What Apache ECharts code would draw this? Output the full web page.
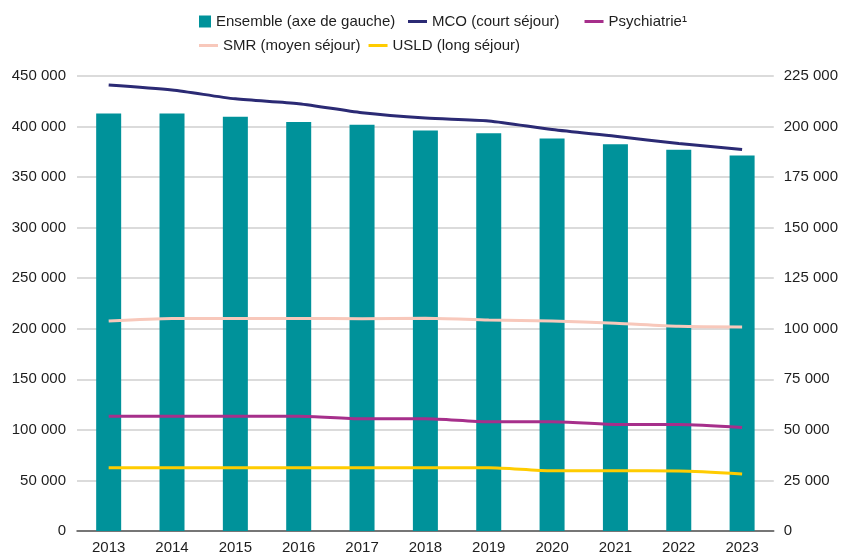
<!DOCTYPE html>
<html>
<head>
<meta charset="utf-8">
<script src="https://cdn.jsdelivr.net/npm/echarts@6/dist/echarts.min.js"></script>
<style>
  html, body { margin: 0; padding: 0; background: #ffffff; }
  #chart { width: 841px; height: 555px; }
</style>
</head>
<body>
<div id="chart"></div>
<script>
// Years on the category axis
const years = ['2013', '2014', '2015', '2016', '2017', '2018', '2019', '2020', '2021', '2022', '2023'];

// Total beds (left axis)
const ensemble = [412800, 412800, 409600, 404500, 401700, 396200, 393400, 388300, 382500, 377100, 371400];

// Beds by discipline (right axis)
const mco = [220600, 218100, 213700, 211300, 206800, 204200, 202800, 198500, 195200, 191600, 188700];
const smr = [103800, 105100, 105100, 105100, 105000, 105200, 104300, 103800, 102700, 101200, 100900];
const psychiatrie = [56800, 56800, 56800, 56800, 55500, 55500, 54000, 54000, 52700, 52700, 51200];
const usld = [31300, 31300, 31300, 31300, 31300, 31300, 31300, 29800, 29800, 29700, 28200];

// Axis ranges
const leftAxis = { min: 0, max: 450000, interval: 50000 };
const rightAxis = { min: 0, max: 225000, interval: 25000 };

const FONT = '"Liberation Sans", Arial, sans-serif';
const TEXT = '#1e1e1e';

const fmt = v => {
  const s = String(Math.round(v));
  return s.replace(/\B(?=(\d{3})+(?!\d))/g, ' ');
};

const chart = echarts.init(document.getElementById('chart'), null, { renderer: 'canvas' });

const legendText = { color: TEXT, fontFamily: FONT, fontSize: 15 };

chart.setOption({
  animation: false,
  backgroundColor: '#ffffff',
  textStyle: { fontFamily: FONT },
  grid: { left: 77, right: 67, top: 76, bottom: 21, containLabel: false },
  legend: [
    {
      data: ['Ensemble (axe de gauche)'],
      left: 194, top: 9,
      icon: 'rect', itemWidth: 12, itemHeight: 12,
      textStyle: legendText
    },
    {
      data: ['MCO (court séjour)', 'Psychiatrie¹'],
      left: 403, top: 9, itemGap: 25,
      icon: 'rect', itemWidth: 19, itemHeight: 3,
      textStyle: legendText
    },
    {
      data: ['SMR (moyen séjour)', 'USLD (long séjour)'],
      left: 194, top: 33, itemGap: 8,
      icon: 'rect', itemWidth: 19, itemHeight: 3,
      textStyle: legendText
    }
  ],
  xAxis: {
    type: 'category',
    data: years,
    boundaryGap: true,
    axisLine: { lineStyle: { color: '#555555', width: 1.5 } },
    axisTick: { show: false },
    axisLabel: { color: TEXT, fontSize: 15, fontFamily: FONT, margin: 9 }
  },
  yAxis: [
    {
      type: 'value',
      position: 'left',
      min: leftAxis.min, max: leftAxis.max, interval: leftAxis.interval,
      axisLine: { show: false },
      axisTick: { show: false },
      axisLabel: { color: TEXT, fontSize: 15, fontFamily: FONT, margin: 11, formatter: fmt },
      splitLine: { lineStyle: { color: '#cfcfcf', width: 1.5 } }
    },
    {
      type: 'value',
      position: 'right',
      min: rightAxis.min, max: rightAxis.max, interval: rightAxis.interval,
      axisLine: { show: false },
      axisTick: { show: false },
      axisLabel: { color: TEXT, fontSize: 15, fontFamily: FONT, margin: 10, formatter: fmt },
      splitLine: { show: false }
    }
  ],
  series: [
    {
      name: 'Ensemble (axe de gauche)',
      type: 'bar',
      yAxisIndex: 0,
      data: ensemble,
      barWidth: 25,
      itemStyle: { color: '#00929a' },
      z: 1
    },
    {
      name: 'MCO (court séjour)',
      type: 'line',
      yAxisIndex: 1,
      data: mco,
      symbol: 'none',
      smooth: 0.25,
      lineStyle: { color: '#2b2a74', width: 3 },
      itemStyle: { color: '#2b2a74' },
      z: 5
    },
    {
      name: 'Psychiatrie¹',
      type: 'line',
      yAxisIndex: 1,
      data: psychiatrie,
      symbol: 'none',
      smooth: 0.25,
      lineStyle: { color: '#a62f8b', width: 3 },
      itemStyle: { color: '#a62f8b' },
      z: 5
    },
    {
      name: 'SMR (moyen séjour)',
      type: 'line',
      yAxisIndex: 1,
      data: smr,
      symbol: 'none',
      smooth: 0.25,
      lineStyle: { color: '#f8c8bb', width: 3 },
      itemStyle: { color: '#f8c8bb' },
      z: 5
    },
    {
      name: 'USLD (long séjour)',
      type: 'line',
      yAxisIndex: 1,
      data: usld,
      symbol: 'none',
      smooth: 0.25,
      lineStyle: { color: '#ffcc00', width: 3 },
      itemStyle: { color: '#ffcc00' },
      z: 5
    }
  ]
});
</script>
</body>
</html>
